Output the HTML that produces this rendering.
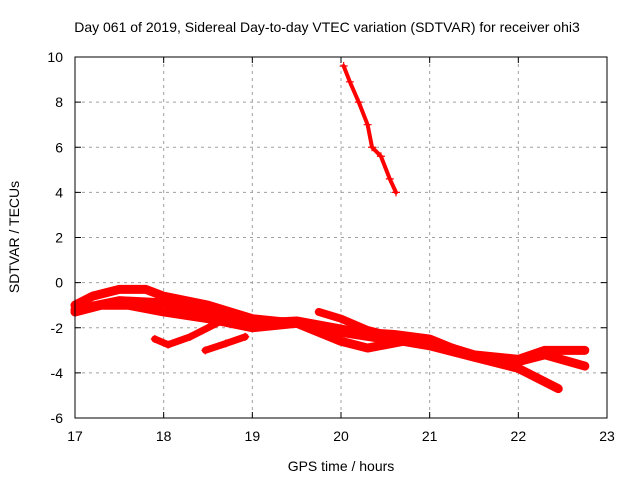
<!DOCTYPE html>
<html><head><meta charset="utf-8"><style>
body{margin:0;background:#fff;}
svg text{font-family:"Liberation Sans",sans-serif;font-size:14px;fill:#000;}
</style></head><body>
<svg id="chart" width="640" height="480" viewBox="0 0 640 480" xmlns="http://www.w3.org/2000/svg">
<rect width="640" height="480" fill="#fff"/>
<text x="327" y="32" text-anchor="middle">Day 061 of 2019, Sidereal Day-to-day VTEC variation (SDTVAR) for receiver ohi3</text>
<g id="grid"></g>
<g id="series"></g>
<rect x="75" y="57" width="532" height="361" fill="none" stroke="#000" stroke-width="1"/>
<g id="ticks"></g>
<text x="341" y="471" text-anchor="middle">GPS time / hours</text>
<text transform="translate(19,237) rotate(-90)" text-anchor="middle">SDTVAR / TECUs</text>
</svg>
<script>
const xTicks=[17,18,19,20,21,22,23];
const yTicks=[-6,-4,-2,0,2,4,6,8,10];
const band1X=[17.0,17.2,17.5,17.8,18.0,18.5,19.0,19.5,20.0,20.5,21.0,21.5,22.0,22.3,22.75];
const band1Y=[-1.0,-0.6,-0.3,-0.3,-0.6,-1.0,-1.6,-1.8,-2.2,-2.5,-2.6,-3.2,-3.4,-3.0,-3.0];
const band2X=[17.0,17.3,17.6,18.0,18.5,19.0,19.5,20.0,20.3,20.7,21.0,21.5,22.0,22.45];
const band2Y=[-1.3,-1.0,-1.0,-1.3,-1.6,-2.0,-1.8,-2.6,-2.9,-2.6,-2.8,-3.3,-3.8,-4.7];
const band3X=[17.0,17.5,18.0,18.5,19.0,19.5,20.2,20.6,21.0,21.5,22.0,22.3,22.75];
const band3Y=[-1.2,-0.8,-0.9,-1.3,-1.8,-1.7,-2.2,-2.3,-2.5,-3.3,-3.5,-3.2,-3.7];
const short1X=[17.9,18.05,18.3,18.6,18.8];
const short1Y=[-2.5,-2.75,-2.4,-1.8,-1.4];
const short2X=[18.47,18.7,18.92];
const short2Y=[-3.0,-2.7,-2.4];
const short3X=[19.75,20.0,20.3,20.6];
const short3Y=[-1.3,-1.6,-2.1,-2.4];
const steepX=[20.03,20.1,20.2,20.3,20.35,20.45,20.55,20.62];
const steepY=[9.6,8.9,8.0,7.0,6.0,5.6,4.6,4.0];
const xs=v=>75+(v-17)*532/6;
const ys=v=>418-(v+6)*361/16;
const NS='http://www.w3.org/2000/svg';
const grid=document.getElementById('grid'),ticks=document.getElementById('ticks'),ser=document.getElementById('series');
function mk(tag,attrs,parent){const e=document.createElementNS(NS,tag);for(const k in attrs)e.setAttribute(k,attrs[k]);parent.appendChild(e);return e;}
xTicks.forEach(t=>{const x=xs(t);
 if(t>17&&t<23){const g=mk('line',{x1:x,y1:57,x2:x,y2:418,stroke:'#a0a0a0','stroke-dasharray':'3,4'},grid);
 
 }
 mk('line',{x1:x,y1:418,x2:x,y2:412,stroke:'#000'},ticks);mk('line',{x1:x,y1:57,x2:x,y2:63,stroke:'#000'},ticks);
 const l=mk('text',{x:x,y:441,'text-anchor':'middle'},ticks);l.textContent=t;
 
 });
yTicks.forEach(t=>{const y=ys(t);
 if(t>-6&&t<10){const g=mk('line',{x1:75,y1:y,x2:607,y2:y,stroke:'#a0a0a0','stroke-dasharray':'3,4'},grid);
 
 }
 mk('line',{x1:75,y1:y,x2:81,y2:y,stroke:'#000'},ticks);mk('line',{x1:607,y1:y,x2:601,y2:y,stroke:'#000'},ticks);
 const l=mk('text',{x:63,y:y+5,'text-anchor':'end'},ticks);l.textContent=t;
 
 });
function draw(X,Y,name,w){
 const pts=X.map((v,i)=>xs(v)+','+ys(Y[i])).join(' ');
 const p=mk('polyline',{points:pts,fill:'none',stroke:'#ff0000','stroke-width':w,'stroke-linejoin':'round','stroke-linecap':'round'},ser);
 
 
 X.forEach((v,i)=>{const x=xs(v),y=ys(Y[i]);
  const m=mk('path',{d:`M${x-4},${y}h8M${x},${y-4}v8`,stroke:'#ff0000','stroke-width':1.2},ser);
  
  });
}
draw(band1X,band1Y,'series-band-1',9);
draw(band2X,band2Y,'series-band-2',9);
draw(band3X,band3Y,'series-band-3',9);
draw(short1X,short1Y,'series-short-1',7);
draw(short2X,short2Y,'series-short-2',7);
draw(short3X,short3Y,'series-short-3',8);
draw(steepX,steepY,'series-steep',4);
</script>
</body></html>
